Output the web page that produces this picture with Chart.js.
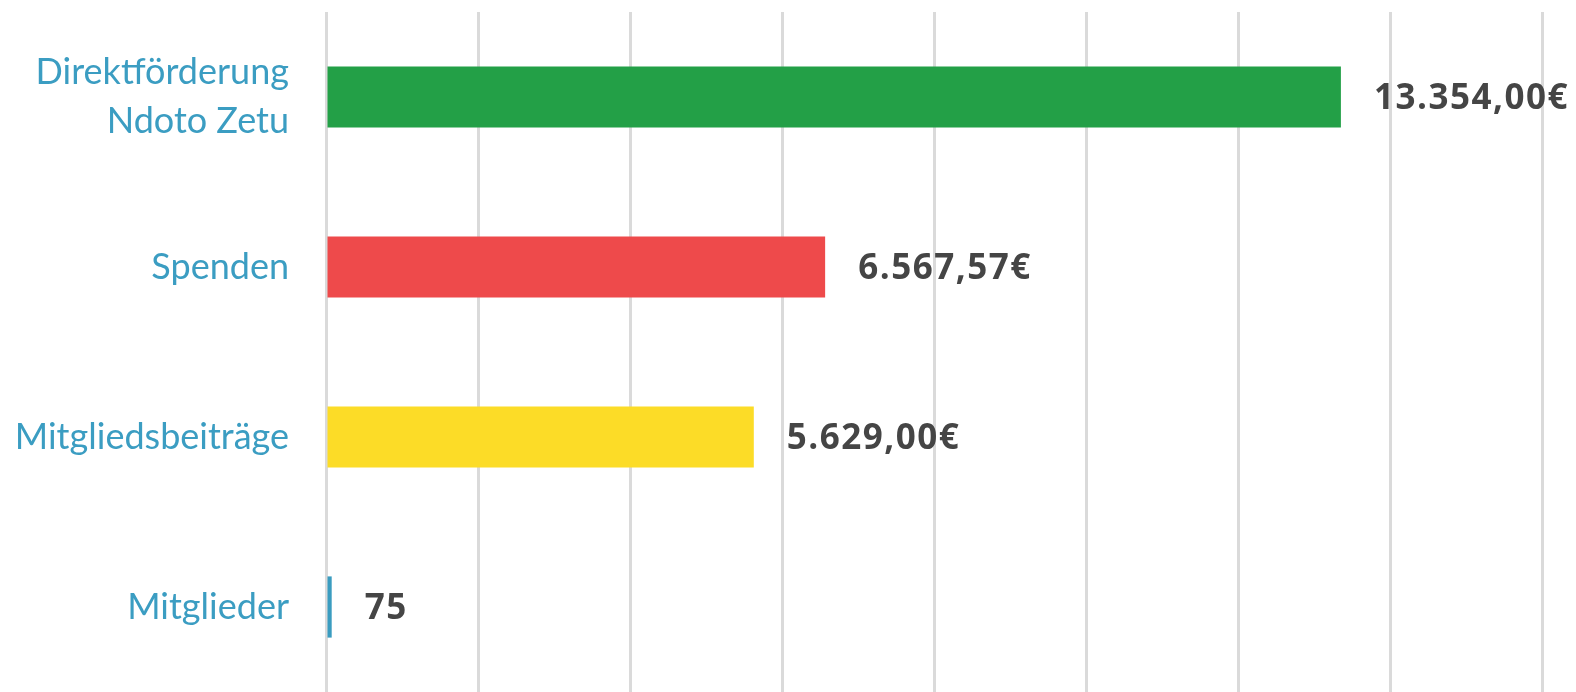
<!DOCTYPE html>
<html>
<head>
<meta charset="utf-8">
<script src="https://cdn.jsdelivr.net/npm/chart.js@4/dist/chart.umd.min.js"></script>
<style>
  html, body { margin: 0; padding: 0; background: #ffffff; }
  #wrap { width: 1576px; height: 692px; }
</style>
</head>
<body>
<div id="wrap"><canvas id="einnahmenChart" width="1576" height="692"></canvas></div>
<script>
// Kategorien und Werte
const categories = [
  ["Direktförderung", "Ndoto Zetu"],
  "Spenden",
  "Mitgliedsbeiträge",
  "Mitglieder",
];
const values = [13354.0, 6567.57, 5629.0, 75];
const valueLabels = ["13.354,00€", "6.567,57€", "5.629,00€", "75"];
const barColors = ["#23a047", "#ee4a4b", "#fcdc27", "#3a9cc0"];

// Werte rechts neben den Balken zeichnen
const valueLabelPlugin = {
  id: "valueLabels",
  afterDatasetsDraw(chart) {
    const ctx = chart.ctx;
    const meta = chart.getDatasetMeta(0);
    ctx.save();
    ctx.font = "bold 35px 'Open Sans'";
    ctx.letterSpacing = "1.5px";
    ctx.fillStyle = "#454545";
    ctx.textAlign = "left";
    ctx.textBaseline = "middle";
    meta.data.forEach(function (bar, i) {
      ctx.fillText(valueLabels[i], bar.x + 33, bar.y + 2);
    });
    ctx.restore();
  },
};

const ctx = document.getElementById("einnahmenChart").getContext("2d");
const chart = new Chart(ctx, {
  type: "bar",
  data: {
    labels: categories,
    datasets: [
      {
        data: values,
        backgroundColor: barColors,
        borderWidth: 0,
        categoryPercentage: 1,
        barPercentage: 0.36,
      },
    ],
  },
  options: {
    indexAxis: "y",
    responsive: false,
    animation: false,
    layout: {
      padding: { top: 12, right: 34, bottom: 0, left: 0 },
    },
    scales: {
      x: {
        min: 0,
        max: 16000,
        ticks: { display: false, stepSize: 2000 },
        grid: {
          color: "#dadada",
          lineWidth: 3,
          drawTicks: false,
          tickLength: 0,
        },
        border: { display: false },
        afterFit: function (axis) {
          axis.height = 0;
          axis.paddingLeft = 0;
          axis.paddingRight = 0;
        },
      },
      y: {
        grid: { display: false, drawTicks: false, tickLength: 0 },
        border: { display: false },
        ticks: {
          color: "#3b9dc2",
          padding: 37,
          font: { family: "Lato", size: 36, lineHeight: 1.35 },
        },
        afterFit: function (axis) {
          axis.width = 326;
          axis.paddingTop = 0;
          axis.paddingBottom = 0;
        },
      },
    },
    plugins: {
      legend: { display: false },
      tooltip: { enabled: false },
    },
  },
  plugins: [valueLabelPlugin],
});
</script>
</body>
</html>
